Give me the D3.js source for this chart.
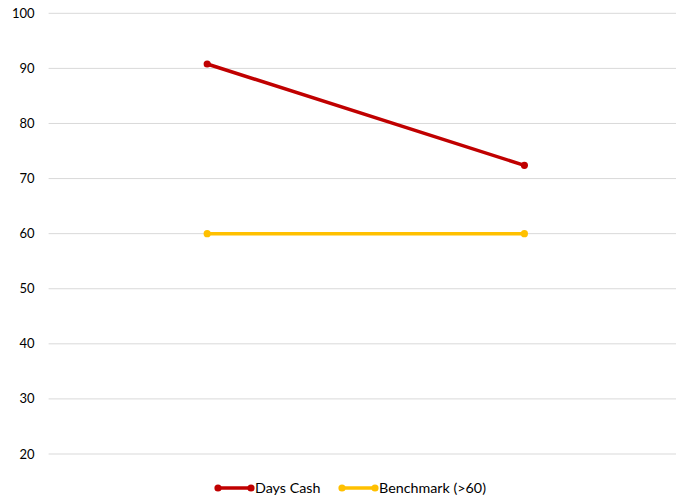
<!DOCTYPE html>
<html>
<head>
<meta charset="utf-8">
<script src="https://cdn.jsdelivr.net/npm/d3@7"></script>
<style>
  body { margin: 0; background: #fff; }
  svg text { font-family: Lato, "Open Sans", sans-serif; fill: #000; }
</style>
</head>
<body>
<div id="chart"></div>
<script>
// data
const categories = ['Period 1', 'Period 2'];
const daysCash = [90.8, 72.4];
const benchmark = [60, 60];
const yTicks = [20, 30, 40, 50, 60, 70, 80, 90, 100];
const seriesNames = ['Days Cash', 'Benchmark (>60)'];
const seriesColors = ['#C00000', '#FFC000'];

const width = 676, height = 499;
const margin = {top: 13.3, right: -7, bottom: 45, left: 48.6};
const innerW = width - margin.left - margin.right;
const innerH = height - margin.top - margin.bottom;

const svg = d3.select('#chart')
  .append('svg')
    .attr('width', width)
    .attr('height', height);

const g = svg.append('g')
  .attr('transform', `translate(${margin.left},${margin.top})`);

let x = d3.scaleBand().domain(categories).range([0, innerW]);
let y = d3.scaleLinear().domain([20, 100]).range([innerH, 0]);

// gridlines
g.append('g')
  .selectAll('line')
  .data(yTicks)
  .join('line')
    .attr('x1', 0)
    .attr('x2', innerW)
    .attr('y1', d => y(d))
    .attr('y2', d => y(d))
    .attr('stroke', '#d9d9d9')
    .attr('stroke-width', 1);

// y labels
g.append('g')
  .selectAll('text')
  .data(yTicks)
  .join('text')
    .attr('x', -14)
    .attr('y', d => y(d))
    .attr('dy', '0.35em')
    .attr('text-anchor', 'end')
    .style('font-size', '13px')
    .text(d => d);

let series = [
  {name: seriesNames[0], color: seriesColors[0], values: daysCash},
  {name: seriesNames[1], color: seriesColors[1], values: benchmark}
];

let line = d3.line()
  .x((d, i) => x(categories[i]) + x.bandwidth() / 2)
  .y(d => y(d));

series.slice().reverse().forEach(s => {
  g.append('path')
    .attr('d', line(s.values))
    .attr('fill', 'none')
    .attr('stroke', s.color)
    .attr('stroke-width', 3.5)
    .attr('stroke-linecap', 'round');
  g.selectAll(null)
    .data(s.values)
    .join('circle')
      .attr('cx', (d, i) => x(categories[i]) + x.bandwidth() / 2)
      .attr('cy', d => y(d))
      .attr('r', 3.6)
      .attr('fill', s.color);
});

// legend
let legend = svg.append('g').attr('transform', 'translate(218,488)');
let offsets = [0, 124];
series.forEach((s, i) => {
  let lg = legend.append('g').attr('transform', `translate(${offsets[i]},0)`);
  lg.append('line')
    .attr('x1', 0).attr('x2', 33)
    .attr('stroke', s.color)
    .attr('stroke-width', 3.5);
  lg.append('circle').attr('cx', 0).attr('r', 3.6).attr('fill', s.color);
  lg.append('circle').attr('cx', 33).attr('r', 3.6).attr('fill', s.color);
  lg.append('text')
    .attr('x', 37)
    .attr('dy', '0.35em')
    .style('font-size', '14.3px')
    .text(s.name);
});
</script>
</body>
</html>
